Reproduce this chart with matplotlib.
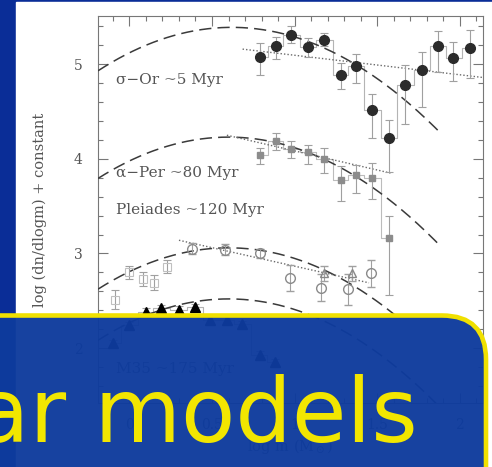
import numpy as np
import matplotlib.pyplot as plt
from matplotlib.patches import Rectangle, FancyBboxPatch
from matplotlib.ticker import MultipleLocator
from matplotlib.colors import to_rgba

W, H = 492, 467

# sigma Ori (filled circles)
sori_x = [0.79, 0.885, 0.98, 1.08, 1.18, 1.28, 1.37, 1.47, 1.57, 1.67, 1.77, 1.87, 1.96, 2.06]
sori_y = [5.08, 5.19, 5.31, 5.18, 5.26, 4.89, 4.98, 4.52, 4.22, 4.78, 4.94, 5.19, 5.07, 5.17]
sori_up = [0.14, 0.10, 0.09, 0.10, 0.07, 0.12, 0.13, 0.17, 0.19, 0.21, 0.19, 0.16, 0.16, 0.19]
sori_dn = [0.19, 0.13, 0.09, 0.10, 0.07, 0.15, 0.18, 0.30, 0.36, 0.41, 0.39, 0.27, 0.25, 0.31]

# alpha Per (grey squares)
aper_x = [0.79, 0.885, 0.98, 1.08, 1.18, 1.28, 1.37, 1.47, 1.57]
aper_y = [4.04, 4.19, 4.10, 4.07, 4.00, 3.78, 3.83, 3.80, 3.16]
aper_up = [0.08, 0.08, 0.09, 0.08, 0.12, 0.14, 0.11, 0.16, 0.24]
aper_dn = [0.09, 0.10, 0.09, 0.12, 0.15, 0.23, 0.19, 0.22, 0.60]

# Pleiades (open circles, open squares, open triangles)
ple_x = [0.38, 0.58, 0.79, 0.97, 1.16, 1.32, 1.46]
ple_y = [3.05, 3.04, 3.00, 2.74, 2.64, 2.62, 2.79]
ple_err = [0.06, 0.06, 0.05, 0.14, 0.14, 0.16, 0.14]
pls_x = [-0.09, 0.0, 0.08, 0.15, 0.23]
pls_y = [2.51, 2.80, 2.73, 2.69, 2.86]
pls_err = [0.10, 0.07, 0.07, 0.08, 0.07]
plt_x = [1.18, 1.35]
plt_y = [2.79, 2.79]

# M35 (filled triangles)
m35_x = [-0.10, 0.0, 0.10, 0.19, 0.30, 0.40, 0.49, 0.59, 0.68, 0.79, 0.88]
m35_y = [2.05, 2.24, 2.38, 2.42, 2.40, 2.43, 2.30, 2.30, 2.25, 1.93, 1.85]

# log-normal fits: peak height, peak position, end of curve
fit_peak = [5.39, 4.23, 3.06, 2.52]
fit_x0 = [0.62, 0.60, 0.60, 0.60]
fit_end = [1.88, 1.88, 1.62, 1.90]
fit_k = 0.70

# power-law fits: (x0, y0, x1, y1)
pl_x0 = [0.685, 0.59, 0.30]
pl_y0 = [5.16, 4.25, 3.14]
pl_x1 = [2.14, 1.58, 1.45]
pl_y1 = [4.86, 3.85, 2.69]

labels = ['σ−Or ~5 Myr', 'α−Per ~80 Myr', 'Pleiades ~120 Myr', 'M35 ~175 Myr']
label_y = [4.83, 3.85, 3.46, 1.78]

fig = plt.figure(figsize=(W / 100, H / 100), dpi=100)
fig.patch.set_facecolor('#0a2d97')

# white page behind the plot
bg = fig.add_axes([0, 0, 1, 1], zorder=0)
bg.set_xlim(0, W)
bg.set_ylim(H, 0)
bg.axis('off')
bg.add_patch(Rectangle((16, 2), W, H, color='white'))

ax = fig.add_axes([98 / W, 1 - 403 / H, 385 / W, 387 / H], zorder=1)
ax.set_xlim(-0.19, 2.14)
ax.set_ylim(1.42, 5.51)

grey = '#a0a0a0'
ebkw = dict(ecolor=grey, elinewidth=0.8, capsize=3, capthick=0.8, linestyle='none')

# histogram steps
ax.step(sori_x, sori_y, where='mid', color='#b4b4b4', lw=0.8)
ax.step(aper_x, aper_y, where='mid', color='#bcbcbc', lw=0.8)
ax.step(m35_x, m35_y, where='mid', color='#b4b4b4', lw=0.8)

ax.errorbar(sori_x, sori_y, yerr=[sori_dn, sori_up], marker='o', ms=7,
            mfc='#2b2b2b', mec='#2b2b2b', zorder=4, **ebkw)
ax.errorbar(aper_x, aper_y, yerr=[aper_dn, aper_up], marker='s', ms=5,
            mfc='#8c8c8c', mec='#8c8c8c', zorder=4, **ebkw)
ax.errorbar(ple_x, ple_y, yerr=ple_err, marker='o', ms=7, mfc='none',
            mec='#8a8a8a', mew=1.0, zorder=4, **ebkw)
ax.errorbar(pls_x, pls_y, yerr=pls_err, marker='s', ms=6, mfc='none',
            mec='#c0c0c0', mew=0.8, zorder=4, **ebkw)
ax.errorbar(plt_x, plt_y, yerr=0.08, marker='^', ms=6, mfc='none',
            mec='#888888', mew=1.0, zorder=4, **ebkw)
ax.errorbar(m35_x, m35_y, yerr=0.04, marker='^', ms=6.5, mfc='black',
            mec='black', zorder=4, **ebkw)

for peak, x0, xe in zip(fit_peak, fit_x0, fit_end):
    xx = np.linspace(-0.19, xe, 200)
    ax.plot(xx, peak - fit_k * (xx - x0) ** 2, color='#3a3a3a', lw=1.1,
            dashes=(8, 4), zorder=3)

for xa, ya, xb, yb in zip(pl_x0, pl_y0, pl_x1, pl_y1):
    ax.plot([xa, xb], [ya, yb], color='#6a6a6a', lw=1.0, ls=(0, (1, 1.5)), zorder=3)

for txt, yy in zip(labels, label_y):
    ax.text(-0.08, yy, txt, family='DejaVu Serif', fontsize=11,
            color='#555555', va='center', ha='left')

ax.xaxis.set_minor_locator(MultipleLocator(0.1))
ax.yaxis.set_major_locator(MultipleLocator(1))
ax.yaxis.set_minor_locator(MultipleLocator(0.2))
ax.set_xticks([0, 0.5, 1, 1.5, 2])
ax.set_xticklabels(['0', '0.5', '1', '1.5', '2'])
ax.tick_params(which='both', direction='in', top=True, right=True,
               colors='#777777', labelcolor='#555555', width=0.8)
ax.tick_params(which='major', length=7, labelsize=10, pad=11)
ax.tick_params(which='minor', length=3.5)
for lab in ax.get_xticklabels() + ax.get_yticklabels():
    lab.set_family('DejaVu Serif')
for s in ax.spines.values():
    s.set_color('#777777')
    s.set_linewidth(0.8)
ax.set_ylabel('log (dn/dlogm) + constant', family='DejaVu Serif',
              fontsize=10.5, color='#555555', labelpad=19)
ax.set_xlabel('log m (M$_\\odot$)', family='DejaVu Serif',
              fontsize=10.5, color='#555555', labelpad=4)

# title box across the bottom
ov = fig.add_axes([0, 0, 1, 1], zorder=2)
ov.set_xlim(0, W)
ov.set_ylim(H, 0)
ov.axis('off')
ov.patch.set_alpha(0)
ov.add_patch(FancyBboxPatch((-80, 315.5), 566, 260,
                            boxstyle='round,pad=0,rounding_size=44',
                            fc=to_rgba('#0e3b9d', 0.965), ec='#f0e000', lw=3.3))
ov.text(-25, 442, 'ar models', family='DejaVu Sans', fontsize=64,
        color='#f2e600', ha='left', va='baseline')

fig.savefig('out.png', dpi=100, facecolor=fig.get_facecolor())
